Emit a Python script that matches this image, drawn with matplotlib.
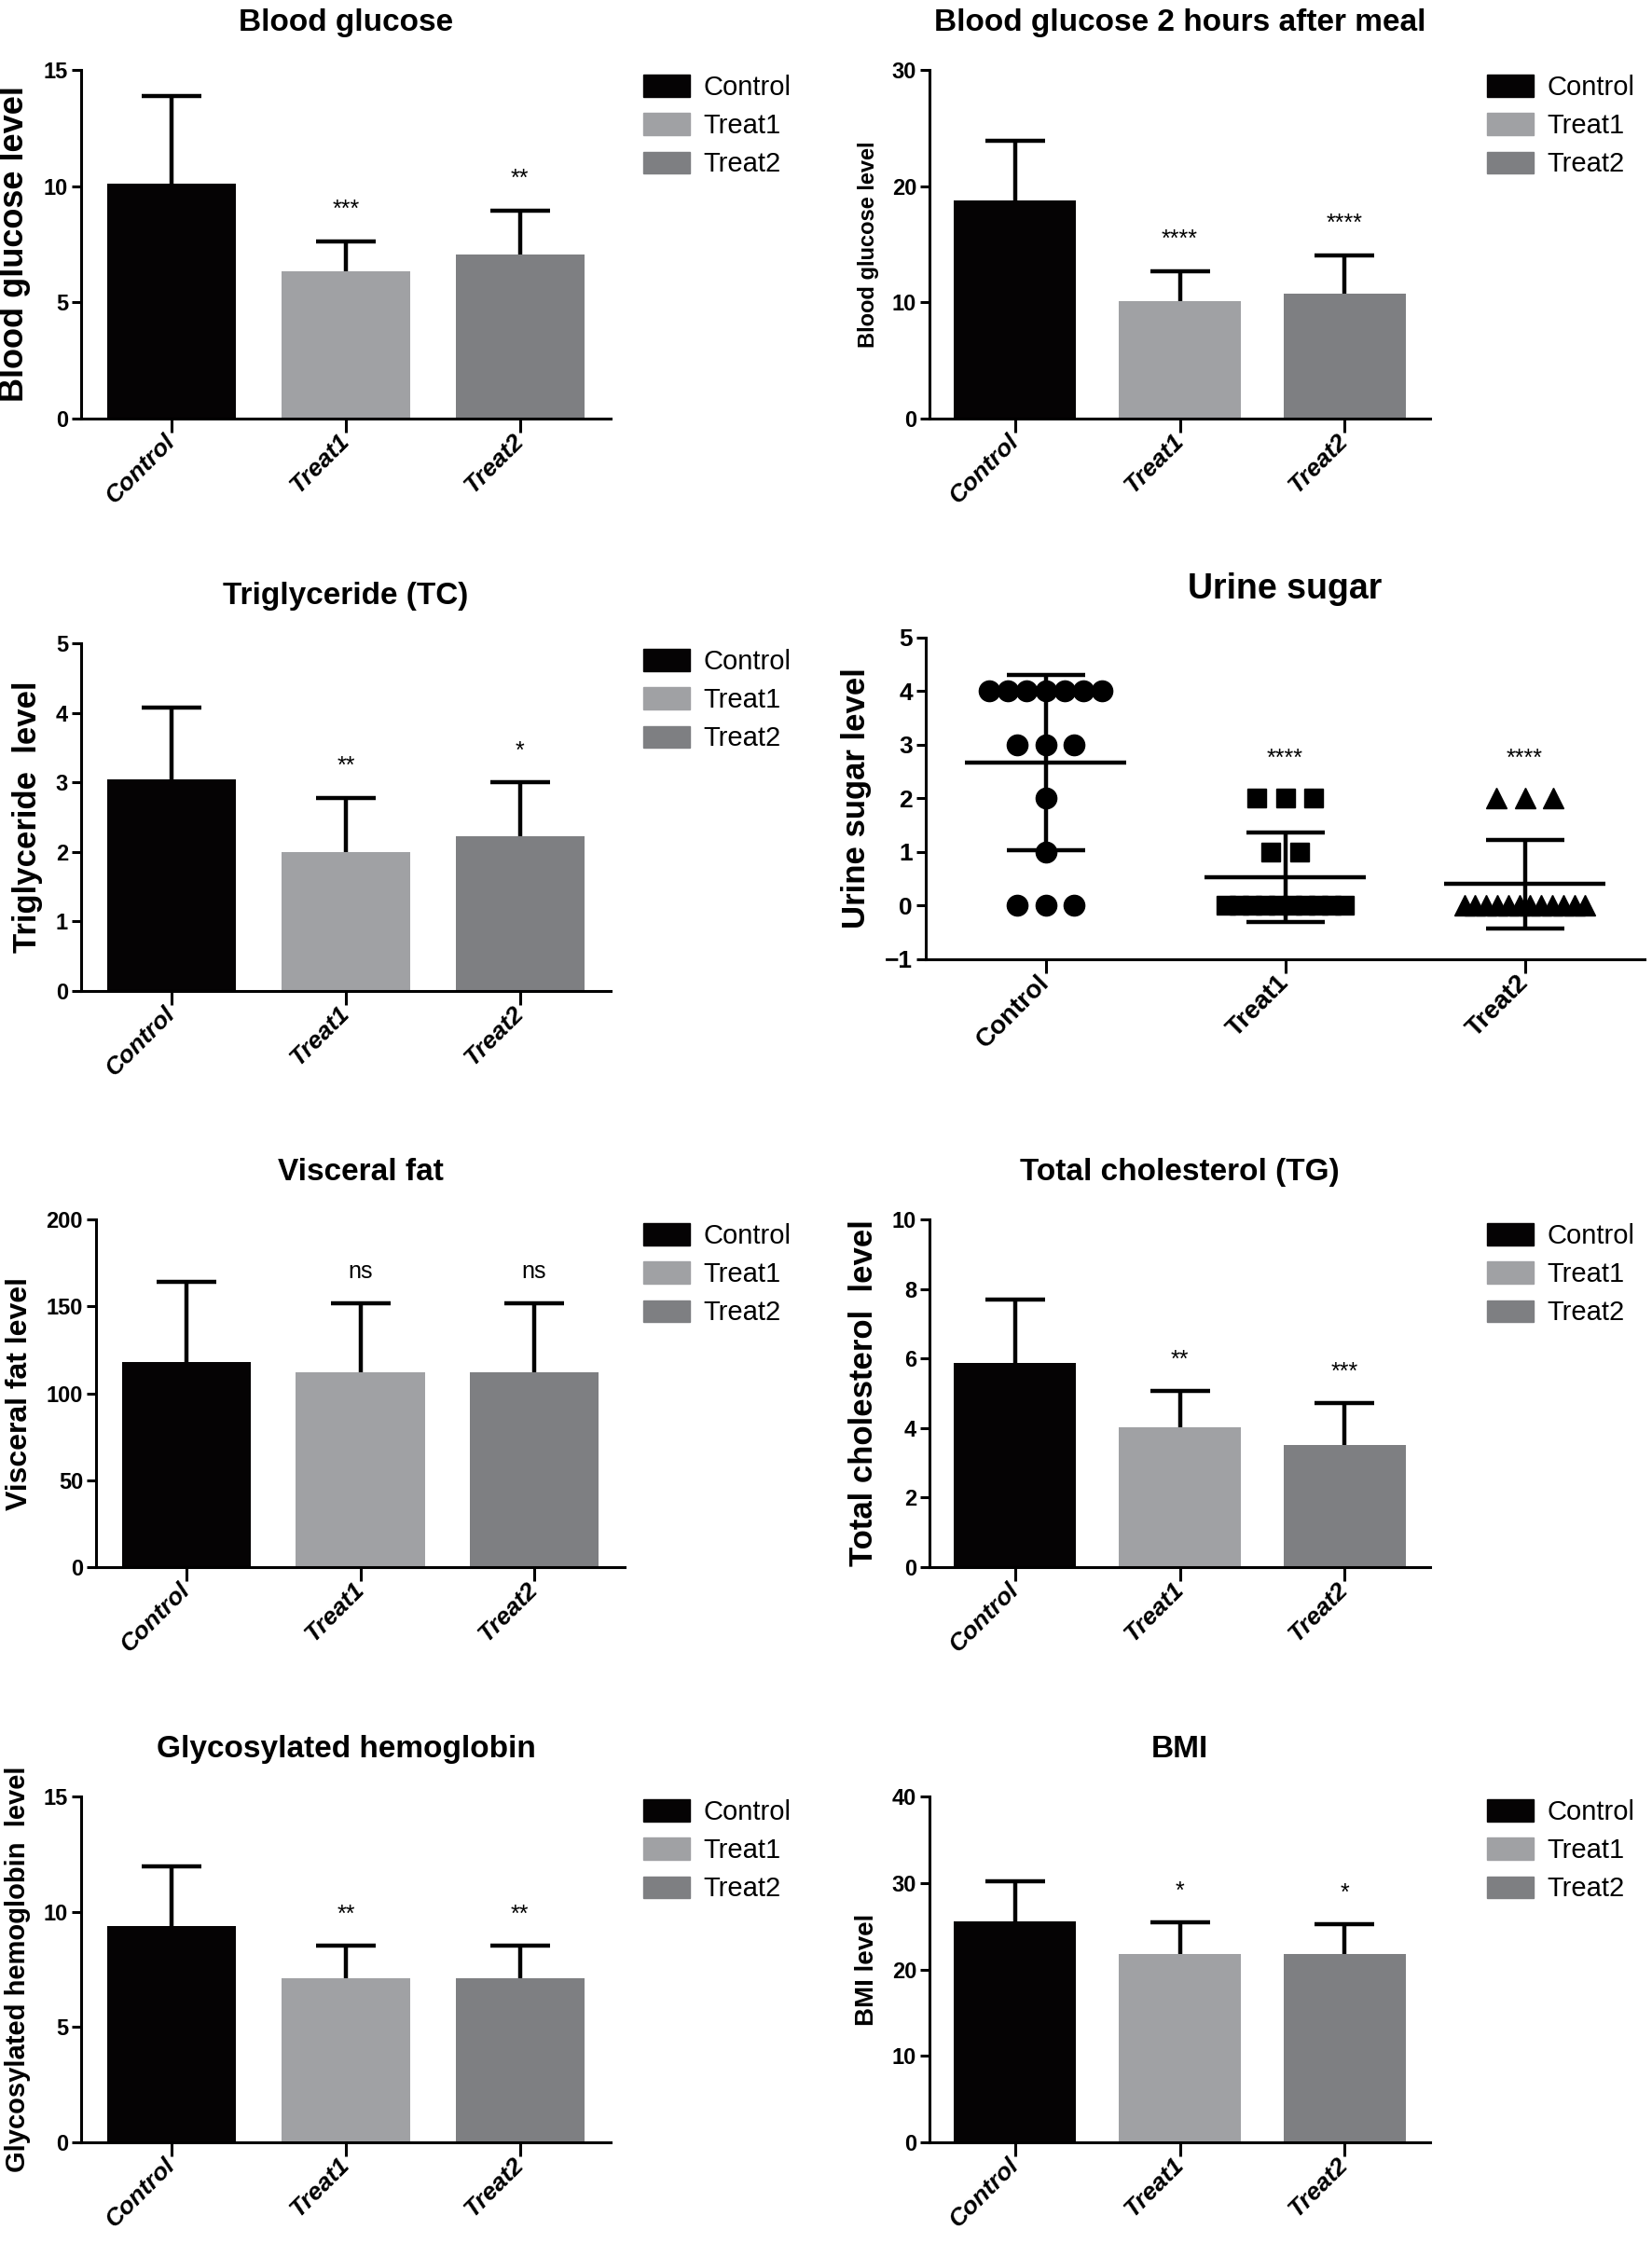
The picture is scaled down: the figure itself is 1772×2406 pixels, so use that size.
import numpy as np
import matplotlib
matplotlib.use("Agg")
import matplotlib.pyplot as plt
from matplotlib.patches import Patch

plt.rcParams['font.family'] = ['Liberation Sans', 'DejaVu Sans']

#------------------data------------------

groups = ['Control', 'Treat1', 'Treat2']

bg_mean = [10.1, 6.35, 7.07]
bg_sd = [3.76, 1.28, 1.89]
bg_sig = ['', '***', '**']

bg2h_mean = [18.8, 10.1, 10.75]
bg2h_sd = [5.1, 2.6, 3.3]
bg2h_sig = ['', '****', '****']

tc_mean = [3.04, 2.0, 2.22]
tc_sd = [1.03, 0.78, 0.78]
tc_sig = ['', '**', '*']

vf_mean = [118, 112, 112]
vf_sd = [46, 40, 40]
vf_sig = ['', 'ns', 'ns']

chol_mean = [5.87, 4.01, 3.52]
chol_sd = [1.82, 1.05, 1.2]
chol_sig = ['', '**', '***']

hb_mean = [9.4, 7.1, 7.1]
hb_sd = [2.58, 1.43, 1.43]
hb_sig = ['', '**', '**']

bmi_mean = [25.6, 21.75, 21.8]
bmi_sd = [4.6, 3.7, 3.45]
bmi_sig = ['', '*', '*']

# urine sugar, individual animals
urine_control = [4, 4, 4, 4, 4, 4, 4, 3, 3, 3, 2, 1, 0, 0, 0]
urine_treat1 = [2, 2, 2, 1, 1, 0, 0, 0, 0, 0, 0, 0, 0, 0, 0]
urine_treat2 = [2, 2, 2, 0, 0, 0, 0, 0, 0, 0, 0, 0, 0, 0, 0]
urine_sig = ['', '****', '****']

#-------------------------------------------------------

W, H = 1772, 2406
colors = ['#050304', '#a0a1a4', '#7e7f82']
LW = 2.2

fig = plt.figure(figsize=(W / 100, H / 100), dpi=100)


def add_ax(x0, y0, x1, y1):
    return fig.add_axes([x0 / W, 1 - y1 / H, (x1 - x0) / W, (y1 - y0) / H])


def style_ax(ax, ylabel, ylabel_size, title, title_size=24):
    for s in ['top', 'right']:
        ax.spines[s].set_visible(False)
    for s in ['left', 'bottom']:
        ax.spines[s].set_linewidth(LW)
    ax.tick_params(axis='y', length=7, width=LW, labelsize=17, pad=3)
    ax.tick_params(axis='x', length=11, width=LW, pad=4)
    for t in ax.get_yticklabels():
        t.set_fontweight('bold')
    ax.set_ylabel(ylabel, fontsize=ylabel_size, fontweight='bold', labelpad=10)
    ax.set_title(title, fontsize=title_size, fontweight='bold', pad=30)


def add_legend(px, py):
    handles = [Patch(facecolor=c, edgecolor=c) for c in colors]
    fig.legend(handles, groups, loc='upper left', bbox_to_anchor=(px / W, 1 - py / H),
               frameon=False, fontsize=21, handlelength=1.7, handleheight=0.85,
               labelspacing=0.45, handletextpad=0.5, borderpad=0, borderaxespad=0)


def bar_panel(rect, means, sds, sig, ymax, step, title, ylabel, ylabel_size, legend_xy):
    ax = add_ax(*rect)
    x = np.arange(len(groups))
    ax.bar(x, means, width=0.74, color=colors, zorder=2)
    # upper half of the SD bar only
    eb = ax.errorbar(x, means, yerr=[np.zeros(len(sds)), sds], fmt='none', ecolor='black',
                     elinewidth=3.2, capsize=23, capthick=3.2, zorder=3)
    eb[1][0].set_visible(False)
    for xi, m, s, lab in zip(x, means, sds, sig):
        if lab:
            fs = 18 if lab == 'ns' else 18
            ax.text(xi, m + s + 0.09 * ymax, lab, ha='center', va='center', fontsize=fs)
    ax.set_xlim(-0.52, 2.52)
    ax.set_ylim(0, ymax)
    ax.set_yticks(np.arange(0, ymax + step / 2, step))
    ax.set_xticks(x, groups, rotation=45, ha='right', va='center', rotation_mode='anchor',
                  fontsize=19, fontweight='bold', fontstyle='italic')
    style_ax(ax, ylabel, ylabel_size, title)
    add_legend(*legend_xy)
    return ax


bar_panel((87, 75, 655, 449), bg_mean, bg_sd, bg_sig, 15, 5,
          'Blood glucose', 'Blood glucose level', 26, (690, 80))
bar_panel((997, 75, 1534, 449), bg2h_mean, bg2h_sd, bg2h_sig, 30, 10,
          'Blood glucose 2 hours after meal', 'Blood glucose level', 17, (1595, 80))
bar_panel((87, 690, 655, 1063), tc_mean, tc_sd, tc_sig, 5, 1,
          'Triglyceride (TC)', 'Triglyceride  level', 25, (690, 696))
bar_panel((103, 1308, 670, 1681), vf_mean, vf_sd, vf_sig, 200, 50,
          'Visceral fat', 'Visceral fat level', 23, (690, 1312))
bar_panel((997, 1308, 1534, 1681), chol_mean, chol_sd, chol_sig, 10, 2,
          'Total cholesterol (TG)', 'Total cholesterol  level', 25, (1595, 1312))
bar_panel((87, 1927, 655, 2298), hb_mean, hb_sd, hb_sig, 15, 5,
          'Glycosylated hemoglobin', 'Glycosylated hemoglobin  level', 21, (690, 1930))
bar_panel((997, 1927, 1534, 2298), bmi_mean, bmi_sd, bmi_sig, 40, 10,
          'BMI', 'BMI level', 20, (1595, 1930))

# urine sugar scatter panel
ax = add_ax(993, 684, 1764, 1029)
markers = ['o', 's', '^']
msizes = [16, 14, 16]
for i, vals in enumerate([urine_control, urine_treat1, urine_treat2]):
    vals = np.array(vals, dtype=float)
    xs = np.zeros(len(vals))
    for v in np.unique(vals):
        idx = np.where(vals == v)[0]
        n = len(idx)
        gap = min(0.12, 0.55 / n)
        xs[idx] = i + (np.arange(n) - (n - 1) / 2) * gap
    ax.plot(xs, vals, ls='none', marker=markers[i], ms=msizes[i], color='black', zorder=2)
    m = vals.mean()
    sd = vals.std(ddof=1)
    ax.hlines(m, i - 0.335, i + 0.335, color='black', lw=3.2, zorder=3)
    ax.errorbar(i, m, yerr=sd, fmt='none', ecolor='black', elinewidth=3.2,
                capsize=30, capthick=3.2, zorder=3)
    if urine_sig[i]:
        ax.text(i, vals.max() + 0.75, urine_sig[i], ha='center', va='center', fontsize=18)
ax.set_xlim(-0.5, 2.5)
ax.set_ylim(-1, 5)
ax.set_yticks(np.arange(-1, 6, 1))
ax.set_xticks(range(3), groups, rotation=45, ha='right', va='center', rotation_mode='anchor',
              fontsize=20, fontweight='bold')
style_ax(ax, 'Urine sugar level', 25, 'Urine sugar', title_size=27)
ax.tick_params(axis='y', labelsize=19)

fig.savefig('out.png', dpi=100)
